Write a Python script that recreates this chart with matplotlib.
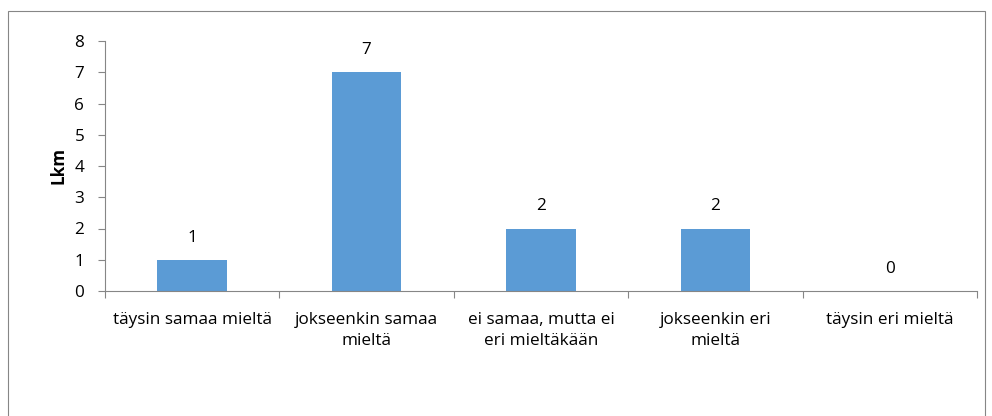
import matplotlib.pyplot as plt
from matplotlib.patches import Rectangle

plt.rcParams['font.family'] = ['Open Sans', 'DejaVu Sans']

categories = ['täysin samaa mieltä', 'jokseenkin samaa\nmieltä',
              'ei samaa, mutta ei\neri mieltäkään', 'jokseenkin eri\nmieltä',
              'täysin eri mieltä']
counts = [1, 7, 2, 2, 0]
yticks = [0, 1, 2, 3, 4, 5, 6, 7, 8]

W, H = 992, 416
fig = plt.figure(figsize=(W / 100, H / 100), dpi=100)
fs = 12.3

# outer chart border (bottom edge falls outside the image)
fig.patches.append(Rectangle((8 / W, -10 / H), 977 / W, 415 / H,
                             transform=fig.transFigure, fill=False,
                             edgecolor='#868686', linewidth=0.8))

ax = fig.add_axes([105 / W, 1 - 291 / H, 872 / W, 250 / H])
x = list(range(len(categories)))
bars = ax.bar(x, counts, width=0.4, color='#5B9BD5')

for xi, c in zip(x, counts):
    ax.annotate(str(c), (xi, c), xytext=(0, 16), textcoords='offset points',
                ha='center', va='center', fontsize=fs)

ax.set_xlim(-0.5, len(categories) - 0.5)
ax.set_ylim(0, 8)
ax.set_yticks(yticks)
ax.set_xticks(x)
ax.set_xticklabels(categories, fontsize=fs, linespacing=1.45)
ax.set_xticks([i - 0.5 for i in range(len(categories) + 1)], minor=True)
ax.tick_params(axis='x', which='major', length=0, pad=15)
ax.tick_params(axis='x', which='minor', length=5, color='#868686', width=0.8)
ax.tick_params(axis='y', length=5, color='#868686', width=0.8, labelsize=fs, pad=10)

for s in ['top', 'right']:
    ax.spines[s].set_visible(False)
for s in ['left', 'bottom']:
    ax.spines[s].set_color('#868686')
    ax.spines[s].set_linewidth(0.8)

ax.set_ylabel('Lkm', fontsize=fs, fontweight='bold', labelpad=5)

fig.savefig('out.png', dpi=100)
